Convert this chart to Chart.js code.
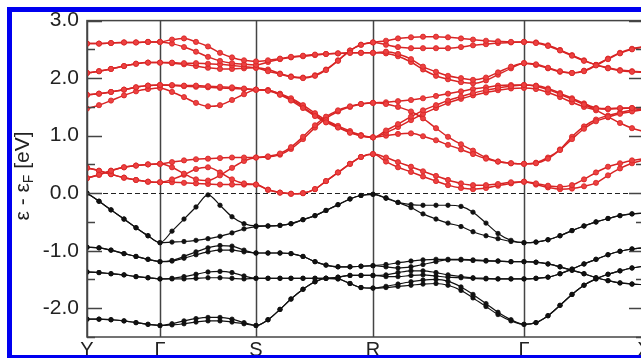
<!DOCTYPE html>
<html>
<head>
<meta charset="utf-8">
<script src="https://cdn.jsdelivr.net/npm/chart.js@4"></script>
<style>
  html, body { margin: 0; padding: 0; background: #fff; }
  body { width: 641px; height: 358px; overflow: hidden; position: relative; }
  #wrap { position: absolute; left: 0; top: 0; width: 700px; height: 400px; }
  #frame { position: absolute; left: 7px; top: 7px; width: 900px; height: 343px;
           border: 5px solid #0000f0; pointer-events: none; }
</style>
</head>
<body>
<div id="wrap"><canvas id="bands" width="700" height="400"></canvas></div>
<div id="frame"></div>
<script>
// k-path positions (path distance, arbitrary units)
const kpath = [0, 12, 24, 37, 49, 61, 73,
  85, 97, 109, 121, 133, 145, 157, 169,
  181, 193, 204, 216, 228, 239, 251, 263, 274, 286,
  299, 311, 324, 336, 349, 361, 374, 386, 399, 411, 424, 437,
  449, 461, 473, 485, 497, 509, 521, 533, 545, 557];

// high symmetry points
const symK = [0, 73, 169, 286, 437, 557];
const symLabels = ['Y', 'Γ', 'S', 'R', 'Γ', 'X'];

// valence bands (eV)
const v1 = [0.00, -0.14, -0.29, -0.45, -0.60, -0.74, -0.86,
  -0.66, -0.45, -0.24, -0.03, -0.21, -0.41, -0.53, -0.57,
  -0.57, -0.56, -0.53, -0.46, -0.39, -0.30, -0.20, -0.10, -0.04, -0.02,
  -0.09, -0.16, -0.20, -0.21, -0.21, -0.21, -0.23, -0.33, -0.52, -0.70, -0.82, -0.86,
  -0.85, -0.81, -0.74, -0.65, -0.57, -0.50, -0.44, -0.39, -0.36, -0.35];
const v2 = [0.00, -0.14, -0.29, -0.45, -0.60, -0.74, -0.86,
  -0.85, -0.84, -0.82, -0.79, -0.75, -0.69, -0.62, -0.58,
  -0.57, -0.56, -0.53, -0.46, -0.39, -0.30, -0.20, -0.10, -0.04, -0.02,
  -0.08, -0.16, -0.25, -0.36, -0.45, -0.52, -0.58, -0.67, -0.74, -0.79, -0.84, -0.86,
  -0.85, -0.81, -0.74, -0.65, -0.57, -0.50, -0.44, -0.39, -0.36, -0.35];
const v3 = [-0.94, -0.95, -0.99, -1.05, -1.10, -1.15, -1.19,
  -1.17, -1.10, -1.02, -0.95, -0.91, -0.92, -0.99, -1.04,
  -1.04, -1.04, -1.05, -1.10, -1.19, -1.25, -1.28, -1.28, -1.27, -1.26,
  -1.24, -1.21, -1.18, -1.16, -1.15, -1.15, -1.15, -1.16, -1.17, -1.18, -1.19, -1.19,
  -1.20, -1.23, -1.28, -1.34, -1.40, -1.47, -1.52, -1.56, -1.58, -1.59];
const v4 = [-0.94, -0.95, -0.99, -1.05, -1.10, -1.15, -1.19,
  -1.18, -1.13, -1.07, -1.02, -0.99, -0.99, -1.02, -1.04,
  -1.04, -1.04, -1.05, -1.10, -1.19, -1.25, -1.28, -1.28, -1.27, -1.26,
  -1.28, -1.30, -1.28, -1.24, -1.19, -1.16, -1.16, -1.17, -1.18, -1.18, -1.19, -1.19,
  -1.20, -1.23, -1.28, -1.34, -1.40, -1.47, -1.52, -1.56, -1.58, -1.59];
const v5 = [-1.37, -1.38, -1.40, -1.42, -1.45, -1.47, -1.49,
  -1.48, -1.45, -1.41, -1.37, -1.36, -1.38, -1.44, -1.48,
  -1.48, -1.48, -1.48, -1.48, -1.48, -1.48, -1.46, -1.43, -1.43, -1.43,
  -1.42, -1.38, -1.35, -1.35, -1.38, -1.42, -1.45, -1.47, -1.48, -1.49, -1.49, -1.49,
  -1.48, -1.46, -1.40, -1.32, -1.23, -1.15, -1.07, -1.01, -0.97, -0.95];
const v6 = [-1.37, -1.38, -1.40, -1.42, -1.45, -1.47, -1.49,
  -1.49, -1.49, -1.48, -1.47, -1.47, -1.48, -1.49, -1.48,
  -1.48, -1.48, -1.48, -1.48, -1.48, -1.48, -1.46, -1.43, -1.43, -1.43,
  -1.45, -1.45, -1.43, -1.42, -1.44, -1.46, -1.47, -1.48, -1.49, -1.49, -1.49, -1.49,
  -1.48, -1.46, -1.40, -1.32, -1.23, -1.15, -1.07, -1.01, -0.97, -0.95];
const v7 = [-2.19, -2.19, -2.20, -2.22, -2.25, -2.28, -2.30,
  -2.27, -2.22, -2.18, -2.16, -2.16, -2.19, -2.25, -2.30,
  -2.20, -2.02, -1.84, -1.67, -1.54, -1.48, -1.49, -1.57, -1.64, -1.65,
  -1.62, -1.58, -1.54, -1.51, -1.50, -1.53, -1.63, -1.76, -1.92, -2.07, -2.20, -2.28,
  -2.25, -2.13, -1.95, -1.76, -1.60, -1.49, -1.41, -1.35, -1.30, -1.27];
const v8 = [-2.19, -2.19, -2.20, -2.22, -2.25, -2.28, -2.30,
  -2.29, -2.27, -2.24, -2.22, -2.22, -2.24, -2.27, -2.30,
  -2.20, -2.02, -1.84, -1.67, -1.54, -1.48, -1.49, -1.57, -1.64, -1.65,
  -1.64, -1.62, -1.60, -1.58, -1.57, -1.60, -1.69, -1.82, -1.97, -2.11, -2.22, -2.28,
  -2.25, -2.13, -1.95, -1.76, -1.60, -1.49, -1.41, -1.35, -1.30, -1.27];

// conduction bands (eV)
const c1 = [2.60, 2.60, 2.61, 2.62, 2.62, 2.63, 2.63,
  2.67, 2.69, 2.63, 2.55, 2.44, 2.36, 2.31, 2.29,
  2.31, 2.34, 2.37, 2.39, 2.41, 2.42, 2.43, 2.44, 2.44, 2.44,
  2.46, 2.42, 2.33, 2.20, 2.11, 2.04, 2.00, 1.97, 2.01, 2.10, 2.20, 2.26,
  2.24, 2.18, 2.12, 2.09, 2.12, 2.22, 2.33, 2.43, 2.50, 2.54];
const c2 = [2.60, 2.60, 2.61, 2.62, 2.62, 2.63, 2.63,
  2.60, 2.54, 2.46, 2.37, 2.30, 2.26, 2.24, 2.23,
  2.28, 2.33, 2.36, 2.38, 2.40, 2.42, 2.43, 2.44, 2.44, 2.44,
  2.43, 2.38, 2.28, 2.15, 2.04, 1.98, 1.93, 1.91, 1.96, 2.06, 2.17, 2.26,
  2.23, 2.17, 2.11, 2.09, 2.13, 2.23, 2.34, 2.44, 2.51, 2.55];
const c3 = [2.09, 2.12, 2.16, 2.21, 2.25, 2.27, 2.27,
  2.27, 2.26, 2.26, 2.25, 2.24, 2.22, 2.20, 2.18,
  2.12, 2.07, 2.02, 2.00, 2.04, 2.14, 2.30, 2.48, 2.58, 2.62,
  2.65, 2.69, 2.71, 2.72, 2.72, 2.71, 2.69, 2.67, 2.65, 2.64, 2.63, 2.63,
  2.61, 2.56, 2.48, 2.39, 2.30, 2.23, 2.17, 2.13, 2.11, 2.10];
const c4 = [2.09, 2.12, 2.16, 2.21, 2.25, 2.27, 2.27,
  2.26, 2.24, 2.21, 2.18, 2.16, 2.16, 2.17, 2.18,
  2.15, 2.08, 2.03, 2.01, 2.05, 2.15, 2.31, 2.48, 2.58, 2.62,
  2.58, 2.54, 2.52, 2.52, 2.52, 2.52, 2.54, 2.57, 2.59, 2.61, 2.62, 2.63,
  2.62, 2.57, 2.49, 2.40, 2.31, 2.23, 2.18, 2.14, 2.12, 2.11];
const c5 = [1.71, 1.73, 1.76, 1.80, 1.84, 1.87, 1.88,
  1.88, 1.87, 1.87, 1.86, 1.85, 1.84, 1.82, 1.80,
  1.78, 1.71, 1.61, 1.48, 1.34, 1.23, 1.14, 1.05, 1.00, 0.97,
  1.09, 1.20, 1.33, 1.44, 1.53, 1.61, 1.68, 1.74, 1.79, 1.83, 1.86, 1.88,
  1.86, 1.80, 1.72, 1.63, 1.54, 1.47, 1.47, 1.48, 1.48, 1.48];
const c6 = [1.71, 1.73, 1.76, 1.80, 1.84, 1.87, 1.88,
  1.87, 1.86, 1.85, 1.84, 1.83, 1.82, 1.81, 1.80,
  1.79, 1.73, 1.65, 1.53, 1.39, 1.27, 1.17, 1.08, 1.01, 0.97,
  1.05, 1.15, 1.27, 1.38, 1.48, 1.57, 1.64, 1.70, 1.75, 1.79, 1.82, 1.83,
  1.81, 1.75, 1.67, 1.58, 1.50, 1.44, 1.33, 1.22, 1.13, 1.07];
const c7 = [1.47, 1.53, 1.61, 1.70, 1.77, 1.81, 1.83,
  1.76, 1.67, 1.57, 1.51, 1.53, 1.62, 1.72, 1.80,
  1.79, 1.72, 1.63, 1.50, 1.36, 1.25, 1.15, 1.06, 1.00, 0.97,
  1.00, 1.03, 1.04, 0.99, 0.92, 0.84, 0.76, 0.68, 0.60, 0.55, 0.52, 0.51,
  0.52, 0.60, 0.75, 0.94, 1.12, 1.25, 1.32, 1.38, 1.42, 1.45];
const c8 = [0.26, 0.32, 0.39, 0.45, 0.48, 0.50, 0.51,
  0.54, 0.57, 0.59, 0.60, 0.61, 0.62, 0.62, 0.62,
  0.64, 0.69, 0.80, 0.98, 1.18, 1.33, 1.44, 1.51, 1.55, 1.57,
  1.55, 1.50, 1.42, 1.30, 1.13, 0.98, 0.85, 0.74, 0.62, 0.55, 0.52, 0.51,
  0.53, 0.62, 0.76, 0.98, 1.16, 1.28, 1.35, 1.40, 1.44, 1.46];
const c9 = [0.26, 0.32, 0.39, 0.45, 0.48, 0.50, 0.51,
  0.45, 0.34, 0.24, 0.22, 0.31, 0.44, 0.56, 0.62,
  0.63, 0.67, 0.77, 0.94, 1.14, 1.30, 1.42, 1.50, 1.55, 1.57,
  1.58, 1.60, 1.62, 1.65, 1.69, 1.73, 1.77, 1.81, 1.84, 1.87, 1.88, 1.88,
  1.87, 1.82, 1.74, 1.65, 1.56, 1.48, 1.46, 1.47, 1.48, 1.49];
const c10 = [0.44, 0.39, 0.33, 0.27, 0.23, 0.20, 0.19,
  0.24, 0.32, 0.42, 0.45, 0.36, 0.24, 0.17, 0.15,
  0.06, 0.01, -0.01, 0.00, 0.07, 0.21, 0.36, 0.51, 0.63, 0.68,
  0.62, 0.54, 0.46, 0.38, 0.30, 0.23, 0.17, 0.14, 0.14, 0.16, 0.19, 0.20,
  0.17, 0.13, 0.11, 0.14, 0.24, 0.36, 0.46, 0.52, 0.57, 0.60];
const c11 = [0.44, 0.39, 0.33, 0.27, 0.23, 0.20, 0.19,
  0.19, 0.18, 0.17, 0.16, 0.15, 0.15, 0.15, 0.15,
  0.06, 0.01, -0.01, 0.00, 0.07, 0.21, 0.36, 0.51, 0.63, 0.68,
  0.55, 0.45, 0.37, 0.29, 0.21, 0.14, 0.09, 0.07, 0.09, 0.13, 0.17, 0.20,
  0.15, 0.10, 0.07, 0.08, 0.12, 0.18, 0.31, 0.43, 0.52, 0.58];

const valence = [v1, v2, v3, v4, v5, v6, v7, v8];
const conduction = [c1, c2, c3, c4, c5, c6, c7, c8, c9, c10, c11];

const FONT = '"Liberation Sans", Arial, sans-serif';

function banda(valores, color, linea, radio, ancho) {
  return {
    data: kpath.map((k, i) => ({ x: k, y: valores[i] })),
    borderColor: linea,
    borderWidth: ancho,
    pointRadius: radio,
    pointBackgroundColor: color,
    pointBorderColor: linea,
    pointBorderWidth: 0.8,
    cubicInterpolationMode: 'monotone',
    fill: false
  };
}

const datasets = [
  ...valence.map(b => banda(b, '#111', '#111', 2.2, 1.2)),
  ...conduction.map(b => banda(b, '#ec4141', '#d82424', 2.6, 1.5))
];

// vertical lines at symmetry points + dashed Fermi level (under the bands)
const fondo = {
  id: 'fondo',
  beforeDatasetsDraw(chart) {
    const { ctx, chartArea: a, scales: { x, y } } = chart;
    ctx.save();
    ctx.strokeStyle = '#444';
    ctx.lineWidth = 1.5;
    symK.forEach(k => {
      const px = Math.round(x.getPixelForValue(k)) + 0.5;
      ctx.beginPath(); ctx.moveTo(px, a.top); ctx.lineTo(px, a.bottom); ctx.stroke();
    });
    const y0 = Math.round(y.getPixelForValue(0)) + 0.5;
    ctx.strokeStyle = '#222';
    ctx.lineWidth = 1;
    ctx.setLineDash([5, 3]);
    ctx.beginPath(); ctx.moveTo(a.left, y0); ctx.lineTo(a.right, y0); ctx.stroke();
    ctx.restore();
  }
};

// frame, inward ticks and the y title
const marco = {
  id: 'marco',
  afterDraw(chart) {
    const { ctx, chartArea: a, scales: { y } } = chart;
    ctx.save();
    ctx.strokeStyle = '#444';
    ctx.lineWidth = 1.5;
    ctx.strokeRect(a.left, a.top, a.right - a.left, a.bottom - a.top);
    y.ticks.forEach(t => {
      const py = Math.round(y.getPixelForValue(t.value)) + 0.5;
      const largo = Math.abs(t.value - Math.round(t.value)) < 1e-6 ? 15 : 8;
      ctx.beginPath();
      ctx.moveTo(a.left, py); ctx.lineTo(a.left + largo, py);
      ctx.moveTo(a.right, py); ctx.lineTo(a.right - largo, py);
      ctx.stroke();
    });

    ctx.translate(29, 176);
    ctx.rotate(-Math.PI / 2);
    ctx.fillStyle = '#222';
    ctx.textBaseline = 'alphabetic';
    const partes = [['ε - ε', '21px ' + FONT, 0], ['F', '14px ' + FONT, 4], [' [eV]', '21px ' + FONT, 0]];
    let total = 0;
    partes.forEach(p => { ctx.font = p[1]; total += ctx.measureText(p[0]).width; });
    let cx = -total / 2;
    partes.forEach(p => {
      ctx.font = p[1];
      ctx.fillText(p[0], cx, p[2]);
      cx += ctx.measureText(p[0]).width;
    });
    ctx.restore();
  }
};

new Chart(document.getElementById('bands'), {
  type: 'line',
  data: { datasets },
  options: {
    responsive: false,
    animation: false,
    events: [],
    layout: { padding: { left: 0, top: 16, right: 56, bottom: 0 } },
    plugins: { legend: { display: false }, tooltip: { enabled: false } },
    scales: {
      x: {
        type: 'linear',
        min: 0,
        max: 557,
        grid: { display: false, drawTicks: false },
        border: { display: false },
        afterBuildTicks(scale) { scale.ticks = symK.map(v => ({ value: v })); },
        afterFit(scale) { scale.height = 63; },
        ticks: {
          autoSkip: false,
          maxRotation: 0,
          padding: 1,
          color: '#222',
          font: { family: FONT, size: 20 },
          callback: (v, i) => symLabels[i]
        }
      },
      y: {
        min: -2.5,
        max: 3.0,
        grid: { display: false, drawTicks: false },
        border: { display: false },
        afterFit(scale) { scale.width = 87; },
        ticks: {
          stepSize: 0.5,
          padding: 8,
          color: '#222',
          font: { family: FONT, size: 21 },
          callback: v => Math.abs(v - Math.round(v)) < 1e-6 ? v.toFixed(1) : ''
        }
      }
    }
  },
  plugins: [fondo, marco]
});
</script>
</body>
</html>
